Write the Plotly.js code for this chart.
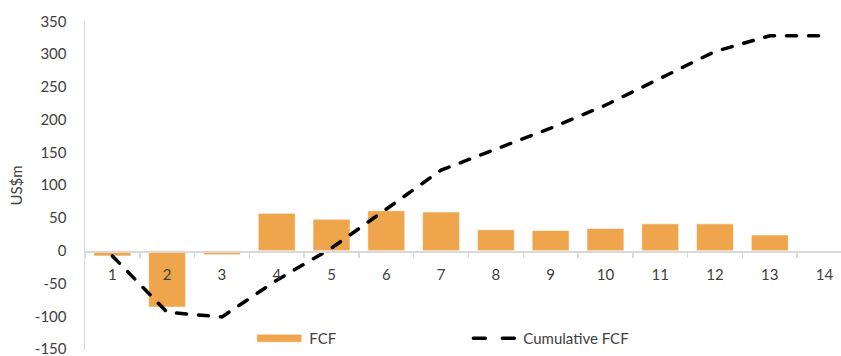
<!DOCTYPE html>
<html>
<head>
<meta charset="utf-8">
<script src="https://cdn.plot.ly/plotly-3.0.1.min.js"></script>
<style>
html,body{margin:0;padding:0;background:#fff;}
#chart{width:841px;height:356px;}
.scatterlayer path.js-line, .legend path.js-line {stroke-linecap: round;}
</style>
</head>
<body>
<div id="chart"></div>
<script>
const periods = ["1","2","3","4","5","6","7","8","9","10","11","12","13","14"];
const fcf = [-8, -86, -6, 57, 48, 61, 59, 32, 31, 34, 41, 41, 24, null];
const cumulativeFcf = [-8, -94, -101, -45, 4, 63, 123, 155, 187, 222, 263, 304, 328, 328];
const yTicks = [-150, -100, -50, 0, 50, 100, 150, 200, 250, 300, 350];

const textColor = "#404040";
const axisGrey = "#d9d9d9";
const fontFamily = "Lato, 'Open Sans', sans-serif";

const traces = [
  {
    type: "bar",
    name: "FCF",
    x: periods,
    y: fcf,
    marker: {color: "#EEA54B", line: {color: "rgba(255,255,255,0.6)", width: 1}},
    hoverinfo: "x+y"
  },
  {
    type: "scatter",
    mode: "lines",
    name: "Cumulative FCF",
    x: periods,
    y: cumulativeFcf,
    line: {color: "#000000", width: 3.5, dash: "10px,12px"},
    hoverinfo: "x+y"
  }
];

const layout = {
  width: 841,
  height: 356,
  margin: {l: 85, r: 0, t: 21, b: 6},
  paper_bgcolor: "#ffffff",
  plot_bgcolor: "#ffffff",
  font: {family: fontFamily, size: 15, color: textColor},
  bargap: 0.325,
  showlegend: true,
  legend: {
    orientation: "h",
    x: 0.224, xanchor: "left",
    y: 0.035, yanchor: "middle",
    bgcolor: "rgba(0,0,0,0)",
    font: {family: fontFamily, size: 15, color: textColor},
    entrywidth: 154, entrywidthmode: "pixels",
    itemwidth: 45,
    traceorder: "normal"
  },
  xaxis: {
    type: "category",
    categoryorder: "array",
    categoryarray: periods,
    range: [-0.5, 13.3],
    anchor: "free",
    position: 0.3,
    showline: true,
    linecolor: axisGrey,
    linewidth: 1.5,
    showgrid: false,
    zeroline: false,
    ticks: "outside",
    tickson: "boundaries",
    ticklen: 5,
    tickcolor: axisGrey,
    tickwidth: 1.5,
    ticklabelstandoff: 9,
    tickfont: {family: fontFamily, size: 15, color: textColor}
  },
  yaxis: {
    range: [-151.5, 350.5],
    tickvals: yTicks,
    ticktext: yTicks.map(String),
    showline: true,
    linecolor: axisGrey,
    linewidth: 1.5,
    showgrid: false,
    zeroline: false,
    ticks: "",
    ticklabelstandoff: 14,
    ticklabeloverflow: "allow",
    tickfont: {family: fontFamily, size: 15, color: textColor},
    title: {text: "US$m", font: {family: fontFamily, size: 15, color: textColor}, standoff: 8}
  }
};

Plotly.newPlot("chart", traces, layout, {displayModeBar: false, staticPlot: true}).then(function (gd) {
  gd.querySelectorAll(".legend .traces").forEach(function (t) {
    const name = t.textContent.trim();
    if (name === "FCF") {
      // widen the bar legend swatch to a long flat rectangle like the original
      const p = t.querySelector(".legendpoints path");
      if (p) p.setAttribute("d", "M-25,4H20V-4H-25Z");
    } else if (name === "Cumulative FCF") {
      // two long dashes in the legend swatch, as in the original
      const l = t.querySelector("path.js-line");
      if (l) l.style.strokeDasharray = "12px,17px";
    }
  });
});
</script>
</body>
</html>
